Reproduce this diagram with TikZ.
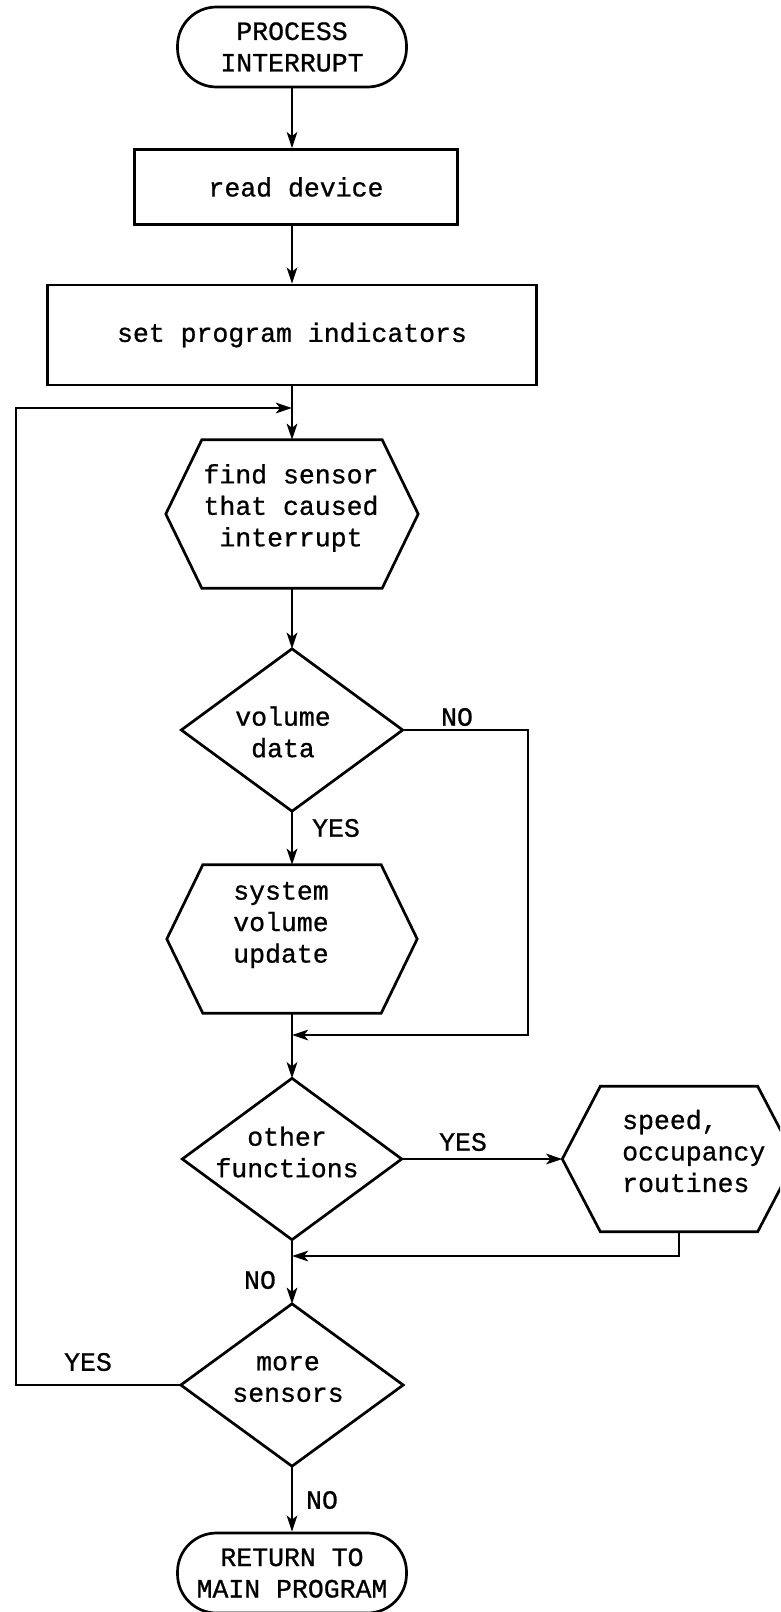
\documentclass[tikz,border=0pt]{standalone}
\usepackage{fontspec}
\setmainfont{Liberation Mono}[FakeBold=0.8]
\usetikzlibrary{arrows.meta,calc}

% outline of a hexagon around a holder node (#2 = horizontal indent)
\newcommand{\hexof}[2]{%
  \draw[flow] ($(#1.north west)+(#2,0)$) -- ($(#1.north east)+(-#2,0)$) -- (#1.east)
    -- ($(#1.south east)+(-#2,0)$) -- ($(#1.south west)+(#2,0)$) -- (#1.west) -- cycle;}
% outline of a decision diamond around a holder node
\newcommand{\diaof}[1]{%
  \draw[flow] (#1.north) -- (#1.east) -- (#1.south) -- (#1.west) -- cycle;}

\tikzset{
  flow/.style={line width=2.7pt},
  arr/.style={flow,-{Stealth[length=16pt,width=10.5pt,inset=4pt]}},
  txt/.style={font=\fontsize{26.5}{31.5}\selectfont, align=center, inner sep=0pt},
  term/.style={txt, draw, line width=2.7pt, rounded corners=39pt,
    minimum width=229pt, minimum height=80pt},
  procbox/.style={txt, draw, line width=2.7pt},
  holder/.style={inner sep=0pt}
}

\begin{document}
\begin{tikzpicture}[x=1pt,y=-1pt]
\useasboundingbox (0,0) rectangle (780,1612);
\fill[white] (0,0) rectangle (780,1612);
\clip (0,0) rectangle (780,1612);

% terminals and process boxes
\node[term] (start) at (292,47) {PROCESS\\INTERRUPT};
\node[procbox, minimum width=323pt, minimum height=75pt] (rd) at (296,187) {read device};
\node[procbox, minimum width=489pt, minimum height=100pt] (spi) at (292,335) {set program indicators};

% hexagon: find sensor
\node[holder, minimum width=252pt, minimum height=148pt] (h1) at (292,514) {};
\hexof{h1}{36}
\node[txt] (h1t) at (291,508) {find sensor\\that caused\\interrupt};

% decision: volume data
\node[holder, minimum width=221pt, minimum height=162pt] (d1) at (292,730) {};
\diaof{d1}
\node[txt] (d1t) at (283,732) {volume\\data};

% hexagon: system volume update
\node[holder, minimum width=250pt, minimum height=148pt] (h2) at (292,939) {};
\hexof{h2}{36}
\node[txt] (h2t) at (281,925) {system\\volume\\update};

% decision: other functions
\node[holder, minimum width=219pt, minimum height=161pt] (d2) at (292,1159) {};
\diaof{d2}
\node[txt] (d2t) at (287,1152) {other\\functions};

% hexagon: speed, occupancy routines
\node[holder, minimum width=233pt, minimum height=145pt] (h3) at (679,1159) {};
\hexof{h3}{38}
\node[txt, align=left, anchor=west] (h3t) at (622,1151) {speed,\\occupancy\\routines};

% decision: more sensors
\node[holder, minimum width=222pt, minimum height=162pt] (d3) at (292,1385) {};
\diaof{d3}
\node[txt] (d3t) at (288,1379) {more\\sensors};

% terminal: return
\node[term] (stop) at (292,1573) {RETURN TO\\MAIN PROGRAM};

% junction points
\coordinate (j0) at (292,408);
\coordinate (lp) at (16,408);
\coordinate (j1) at (292,1035);
\coordinate (nr) at (528,1035);
\coordinate (j2) at (292,1256);

% main flow
\draw[arr] (start.south) -- (start.south |- rd.north);
\draw[arr] (rd.south -| spi.north) -- (spi.north);
\draw[arr] (spi.south) -- (h1.north);
\draw[arr] (h1.south) -- (d1.north);
\draw[arr] (d1.south) -- (h2.north);
\draw[arr] (h2.south) -- (d2.north);
\draw[arr] (d2.south) -- (d3.north);
\draw[arr] (d3.south) -- (stop.north);

% branches
\draw[arr] (d1.east) -| (nr) -- (j1);
\draw[arr] (d2.east) -- (h3.west);
\draw[arr] (h3.south) |- (j2);
\draw[arr] (d3.west) -| (lp) -- (j0);

% branch labels
\node[txt] (l1) at (457,717) {NO};
\node[txt] (l2) at (336,828) {YES};
\node[txt] (l3) at (463,1142) {YES};
\node[txt] (l4) at (260,1280) {NO};
\node[txt] (l5) at (88,1362) {YES};
\node[txt] (l6) at (322,1500) {NO};
\end{tikzpicture}
\end{document}
